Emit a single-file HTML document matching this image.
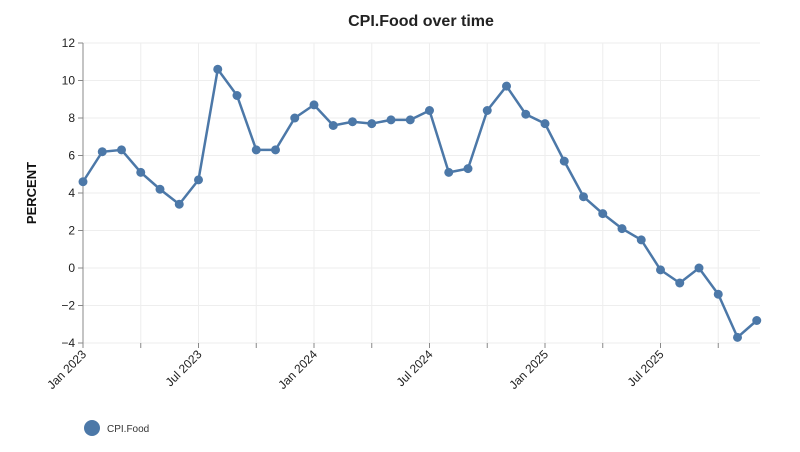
<!DOCTYPE html>
<html><head><meta charset="utf-8"><style>
body{margin:0;background:#fff;font-family:"Liberation Sans",sans-serif}
svg text{font-family:"Liberation Sans",sans-serif}
</style></head><body>
<svg id="chart" width="800" height="447" viewBox="0 0 800 447">
<text x="421" y="26" text-anchor="middle" font-size="16" font-weight="bold" fill="#222">CPI.Food over time</text>
<g id="grid"></g><g id="axes"></g><g id="series"></g>
<text transform="translate(36,193) rotate(-90)" text-anchor="middle" font-size="13" font-weight="bold" fill="#111">PERCENT</text>
<g>
<circle cx="92" cy="428" r="8" fill="#4c78a8"/>
<text x="107" y="432" font-size="10" fill="#333">CPI.Food</text>
</g>
</svg>
<script>
const months=["2023-01","2023-02","2023-03","2023-04","2023-05","2023-06","2023-07","2023-08","2023-09","2023-10","2023-11","2023-12","2024-01","2024-02","2024-03","2024-04","2024-05","2024-06","2024-07","2024-08","2024-09","2024-10","2024-11","2024-12","2025-01","2025-02","2025-03","2025-04","2025-05","2025-06","2025-07","2025-08","2025-09","2025-10","2025-11","2025-12"];
const values=[4.6,6.2,6.3,5.1,4.2,3.4,4.7,10.6,9.2,6.3,6.3,8.0,8.7,7.6,7.8,7.7,7.9,7.9,8.4,5.1,5.3,8.4,9.7,8.2,7.7,5.7,3.8,2.9,2.1,1.5,-0.1,-0.8,0.0,-1.4,-3.7,-2.8];
const yTicks=[-4,-2,0,2,4,6,8,10,12];
const xTickLabels=["Jan 2023","Jul 2023","Jan 2024","Jul 2024","Jan 2025","Jul 2025"];
const xTickIdx=[0,6,12,18,24,30];
const NS="http://www.w3.org/2000/svg";
const x0=83,dx=19.25,yTop=43,yBot=343,yMin=-4,yMax=12;
const X=i=>x0+i*dx;
const Y=v=>yBot-(v-yMin)/(yMax-yMin)*(yBot-yTop);
function mk(p,t,a){const e=document.createElementNS(NS,t);for(const k in a)e.setAttribute(k,a[k]);p.appendChild(e);return e;}
const grid=document.getElementById('grid'),axes=document.getElementById('axes'),ser=document.getElementById('series');
for(let i=0;i<months.length;i+=3){const l=mk(grid,'line',{x1:X(i),x2:X(i),y1:yTop,y2:yBot,stroke:'#eee'});


const t=mk(axes,'line',{x1:X(i),x2:X(i),y1:yBot,y2:yBot+5,stroke:'#888'});

}
yTicks.forEach(v=>{const l=mk(grid,'line',{x1:x0,x2:760,y1:Y(v),y2:Y(v),stroke:'#eee'});


const t=mk(axes,'text',{x:x0-8,y:Y(v)+4,'text-anchor':'end','font-size':12,fill:'#222'});
t.textContent=v<0?'\u2212'+(-v):v;


mk(axes,'line',{x1:x0-5,x2:x0,y1:Y(v),y2:Y(v),stroke:'#888'});});
const ax=mk(axes,'line',{x1:x0,x2:x0,y1:yTop,y2:yBot,stroke:'#888'});


xTickIdx.forEach((idx,k)=>{const t=mk(axes,'text',{transform:`translate(${X(idx)+4},${yBot+12}) rotate(-45)`,'text-anchor':'end','font-size':12,fill:'#222'});
t.textContent=xTickLabels[k];

});
const line=mk(ser,'polyline',{points:values.map((v,i)=>X(i)+','+Y(v)).join(' '),fill:'none',stroke:'#4c78a8','stroke-width':2.5});


values.forEach((v,i)=>{const c=mk(ser,'circle',{cx:X(i),cy:Y(v),r:4.5,fill:'#4c78a8'});

});
</script>
</body></html>
